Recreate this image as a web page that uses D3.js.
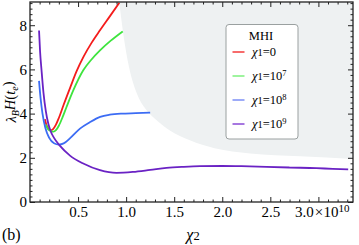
<!DOCTYPE html>
<html><head><meta charset="utf-8">
<script src="https://cdn.jsdelivr.net/npm/d3@7"></script>
<style>
body{margin:0;background:#fff;}
text{font-family:"Liberation Serif","DejaVu Serif",serif;fill:#000;}
</style></head>
<body><svg id="c" width="359" height="245"></svg>
<script>
// ---- data (x in units of 1e10) ----
const redX = [0.155,0.17,0.19,0.215,0.24,0.27,0.30,0.35,0.42,0.485,0.56,0.64,0.728,0.83,0.93];
const redY = [3.75,3.5,3.32,3.25,3.3,3.5,3.8,4.4,5.2,5.92,6.6,7.2,7.77,8.4,9.02];
const greenX = [0.165,0.18,0.20,0.22,0.245,0.27,0.30,0.34,0.38,0.45,0.554,0.64,0.728,0.84,0.964];
const greenY = [3.5,3.35,3.25,3.2,3.18,3.25,3.45,3.85,4.3,5.05,5.96,6.45,6.86,7.3,7.72];
const blueX = [0.094,0.11,0.13,0.16,0.20,0.25,0.30,0.35,0.42,0.52,0.62,0.73,0.83,0.95,1.10,1.25];
const blueY = [5.48,4.7,4.0,3.35,2.9,2.66,2.6,2.65,2.9,3.32,3.6,3.85,3.95,4.0,4.02,4.04];
const purpleX = [0.094,0.105,0.12,0.14,0.165,0.19,0.215,0.25,0.31,0.416,0.554,0.728,0.9,1.07,1.25,1.42,1.6,1.77,2.0,2.2,2.46,2.7,2.98,3.15,3.31];
const purpleY = [7.76,6.8,5.96,4.95,4.1,3.55,3.2,2.9,2.55,2.1,1.74,1.44,1.32,1.36,1.45,1.54,1.59,1.62,1.63,1.62,1.59,1.56,1.53,1.5,1.48];
const boundX = [0.928,0.97,1.03,1.074,1.143,1.213,1.317,1.455,1.663,1.92,2.29,2.81,3.36];
const boundY = [9.05,7.63,6.11,5.37,4.6,4.15,3.70,3.24,2.79,2.43,2.2,2.07,1.95];
const seriesNames = ["0","7","8","9"];
const seriesColors = ["#f41c1c","#3ee43e","#3c6cf4","#6a22c4"];
const legendColors = ["#f43a3a","#7ef07e","#7d8ff6","#8a4ad6"];
const xTicks = [0.5,1.0,1.5,2.0,2.5,3.0];
const yTicks = [0,2,4,6,8];

const svg = d3.select("#c");
const L=30,R=353,T=2,B=202;
const x = d3.scaleLinear().domain([0,3.36]).range([L,R]);
const y = d3.scaleLinear().domain([0,9.05]).range([B,T]);

svg.append("defs").append("clipPath").attr("id","clip")
  .append("rect").attr("x",L).attr("y",T).attr("width",R-L).attr("height",B-T);
const plot = svg.append("g").attr("clip-path","url(#clip)");

// shaded region
const bpts = boundX.map((d,i)=>[d,boundY[i]]);
plot.append("path").datum(bpts)
  .attr("d", d3.area().x(d=>x(d[0])).y0(y(9.05)).y1(d=>y(d[1])).curve(d3.curveMonotoneX))
  .attr("fill","#eef1f2");

const series = [[redX,redY],[greenX,greenY],[blueX,blueY],[purpleX,purpleY]];
const line = d3.line().x(d=>x(d[0])).y(d=>y(d[1])).curve(d3.curveMonotoneX);
series.forEach((s,i)=>{
  plot.append("path").datum(s[0].map((v,j)=>[v,s[1][j]]))
    .attr("d",line).attr("fill","none").attr("stroke",seriesColors[i])
    .attr("stroke-width",1.8).attr("stroke-linejoin","round");
});

// axes / ticks
const minorX = d3.range(0,3.36,0.1).filter(v=>Math.abs(v*2-Math.round(v*2))>1e-6);
const minorY = d3.range(0,9.05,0.25).filter(v=>Math.abs(v/2-Math.round(v/2))>1e-6);
const axStroke = "#222";
function tickStyle(g){ g.select(".domain").remove(); g.selectAll("line").attr("stroke",axStroke).attr("stroke-width",1); }

svg.append("g").attr("transform",`translate(0,${B})`)
  .call(d3.axisBottom(x).tickValues(minorX).tickSize(-2.5).tickFormat("")).call(tickStyle);
const xb = svg.append("g").attr("transform",`translate(0,${B})`)
  .call(d3.axisBottom(x).tickValues(xTicks).tickSize(-5).tickPadding(4).tickFormat(d3.format(".1f"))).call(tickStyle);
xb.attr("font-size",15);
xb.selectAll("text").attr("font-size",15).attr("fill","#000");
xb.selectAll(".tick").filter(d=>d===3.0).select("text").each(function(){
  const t=d3.select(this); t.text("3.0").attr("text-anchor","start").attr("x",-24);
  t.append("tspan").attr("dx",1).text("×");
  t.append("tspan").attr("dx",0.5).text("10");
  t.append("tspan").attr("font-size",11).attr("dy","-0.45em").text("10");
});
svg.append("g").attr("transform",`translate(0,${T})`)
  .call(d3.axisTop(x).tickValues(minorX).tickSize(-2.5).tickFormat("")).call(tickStyle);
svg.append("g").attr("transform",`translate(0,${T})`)
  .call(d3.axisTop(x).tickValues(xTicks).tickSize(-5).tickFormat("")).call(tickStyle);

svg.append("g").attr("transform",`translate(${L},0)`)
  .call(d3.axisLeft(y).tickValues(minorY).tickSize(-2.5).tickFormat("")).call(tickStyle);
const yl = svg.append("g").attr("transform",`translate(${L},0)`)
  .call(d3.axisLeft(y).tickValues(yTicks).tickSize(-5).tickPadding(3).tickFormat(d3.format("d"))).call(tickStyle);
yl.attr("font-size",15);
yl.selectAll("text").attr("font-size",15).attr("fill","#000");
svg.append("g").attr("transform",`translate(${R},0)`)
  .call(d3.axisRight(y).tickValues(minorY).tickSize(-2.5).tickFormat("")).call(tickStyle);
svg.append("g").attr("transform",`translate(${R},0)`)
  .call(d3.axisRight(y).tickValues(yTicks).tickSize(-5).tickFormat("")).call(tickStyle);

svg.append("rect").attr("x",L).attr("y",T).attr("width",R-L).attr("height",B-T)
  .attr("fill","none").attr("stroke",axStroke).attr("stroke-width",1.3);

// axis labels
const yLab = svg.append("text").attr("transform","translate(16,102) rotate(-90)")
  .attr("text-anchor","middle").attr("font-size",14.5);
yLab.append("tspan").attr("font-style","italic").text("λ");
yLab.append("tspan").attr("font-style","italic").attr("font-size",10).attr("dy","0.3em").text("B");
yLab.append("tspan").attr("font-style","italic").attr("dy","-0.3em").text("H");
yLab.append("tspan").text("(");
yLab.append("tspan").attr("font-style","italic").text("t");
yLab.append("tspan").attr("font-style","italic").attr("font-size",10).attr("dy","0.3em").text("e");
yLab.append("tspan").attr("dy","-0.3em").text(")");

const xLab = svg.append("text").attr("x",193).attr("y",240).attr("text-anchor","middle").attr("font-size",16);
xLab.append("tspan").attr("font-style","italic").text("χ");
xLab.append("tspan").attr("font-size",12.5).text("2");

svg.append("text").attr("x",2).attr("y",240).attr("font-size",16).text("(b)");

// legend
const lg = svg.append("g");
lg.append("rect").attr("x",226).attr("y",24.5).attr("width",72).attr("height",114.5)
  .attr("rx",3).attr("fill","#fff").attr("stroke","#9aa0a0").attr("stroke-width",1);
lg.append("text").attr("x",261).attr("y",39.5).attr("text-anchor","middle").attr("font-size",12.5).text("MHI");
seriesNames.forEach((n,i)=>{
  const yy = 52 + i*24;
  lg.append("line").attr("x1",232.5).attr("x2",244.5).attr("y1",yy).attr("y2",yy)
    .attr("stroke",legendColors[i]).attr("stroke-width",1.5);
  const t = lg.append("text").attr("x",252).attr("y",yy+4).attr("font-size",12.5);
  t.append("tspan").attr("font-style","italic").text("χ");
  t.append("tspan").attr("font-size",10.5).text("1");
  if(n==="0"){ t.append("tspan").text("=0"); }
  else { t.append("tspan").text("=10"); t.append("tspan").attr("font-size",8.5).attr("dy","-0.5em").text(n); }
});
</script></body></html>
